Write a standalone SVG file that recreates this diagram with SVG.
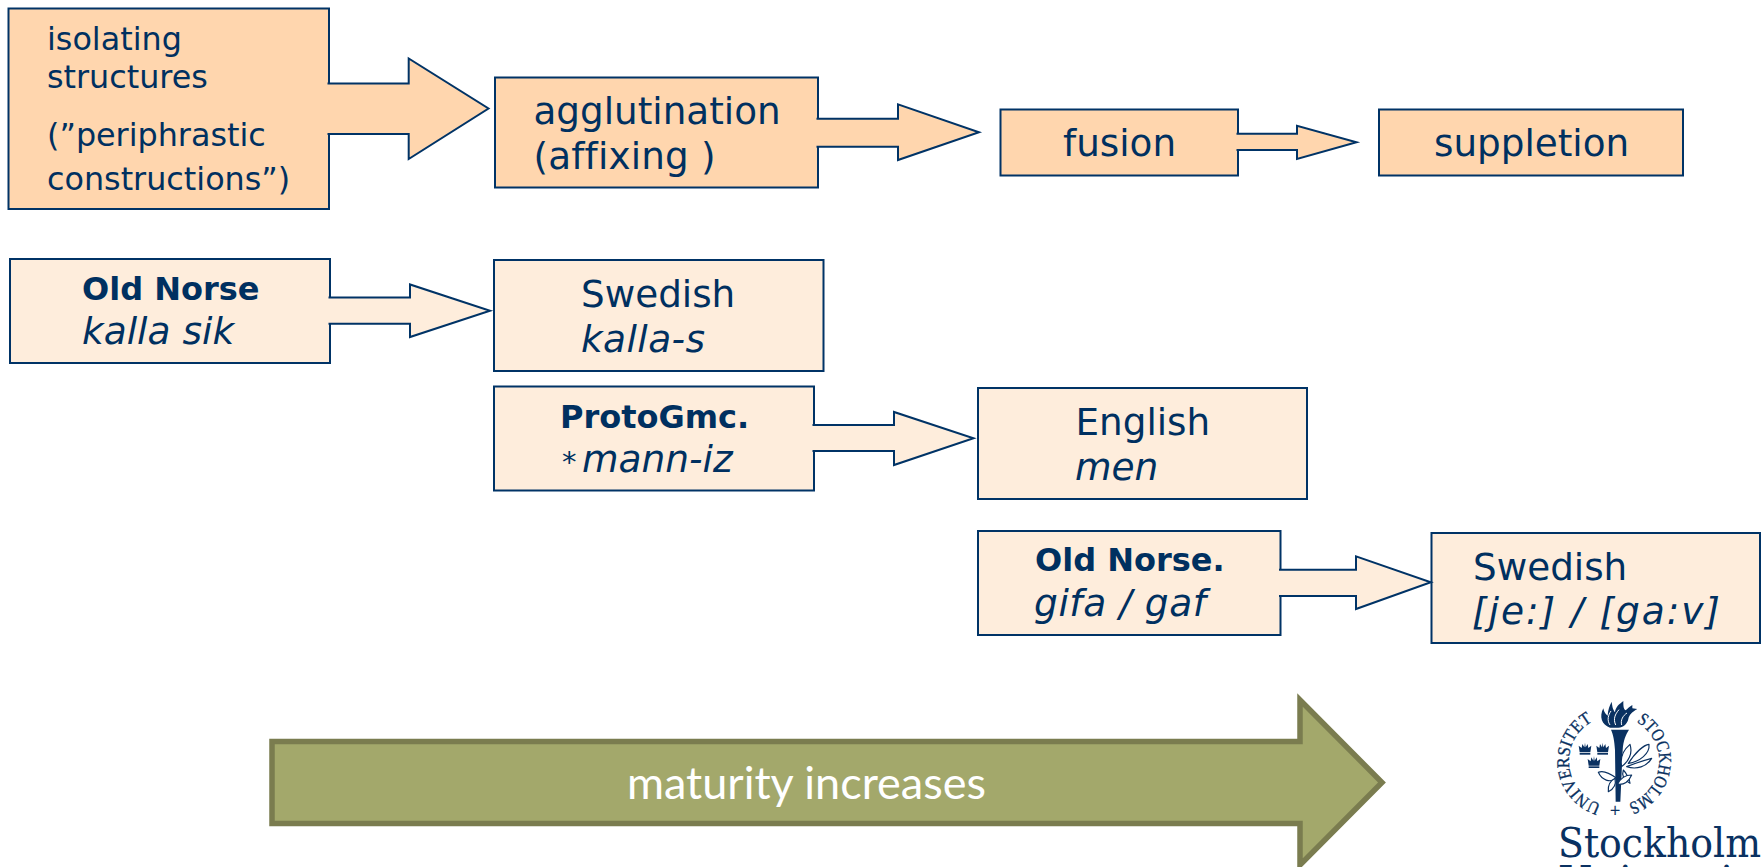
<svg xmlns="http://www.w3.org/2000/svg" width="1761" height="867" viewBox="0 0 1761 867">
<style>
text{font-family:"DejaVu Sans",Verdana,sans-serif;fill:#003060;font-variant-ligatures:none}
.d{fill:#FFD6AE;stroke:#003366;stroke-width:2}
.l{fill:#FEEDDC;stroke:#003366;stroke-width:2}
.s{font-size:31.800px}.m{font-size:37.300px}.b{font-size:32px;font-weight:bold}.i{font-size:37.500px;font-style:italic}
.seal{font-family:"Liberation Serif",serif;font-size:18px;fill:#0a3161;stroke:#0a3161;stroke-width:.3}
.navy{fill:#0a3161}
.leaf{fill:#fff;stroke:#0a3161;stroke-width:3.500;stroke-linejoin:round}
</style>
<defs>
<path id="a1" d="M1601.200 804.200A45 45 0 0 1 1593.600 720.900"/>
<path id="a2" d="M1636.500 722A45 45 0 0 1 1627.900 803.800"/>
<g id="crown"><path d="M-16 12L-19 -8L-10 -1L-8 -13L-2 -3L0 -17L2 -3L8 -13L10 -1L19 -8L16 12Z"/><rect x="-16" y="14" width="32" height="5"/></g>
</defs>
<g id="nodes">
<g id="n-isolating"><rect class="d" x="8.500" y="8.500" width="320.500" height="200.500"/>
<text class="s" x="47" y="50">isolating</text><text class="s" x="47" y="88">structures</text><text class="s" x="47" y="146">(”periphrastic</text><text class="s" x="47" y="190">constructions”)</text></g>
<g id="n-agglutination"><rect class="d" x="495" y="77.500" width="323" height="110"/>
<text class="m" x="533.500" y="124">agglutination</text><text class="m" x="533.500" y="169" textLength="182" lengthAdjust="spacing">(affixing )</text></g>
<g id="n-fusion"><rect class="d" x="1000.500" y="109.500" width="237.500" height="66"/><text class="m" x="1063" y="156">fusion</text></g>
<g id="n-suppletion"><rect class="d" x="1379" y="109.500" width="304" height="66"/><text class="m" x="1434" y="156">suppletion</text></g>
<g id="n-oldnorse1"><rect class="l" x="10" y="259" width="320" height="104"/><text class="b" x="82" y="300">Old Norse</text><text class="i" x="82" y="344">kalla sik</text></g>
<g id="n-swedish1"><rect class="l" x="494" y="260" width="329.500" height="111"/><text class="m" x="581" y="307">Swedish</text><text class="i" x="581" y="352" textLength="124" lengthAdjust="spacing">kalla-s</text></g>
<g id="n-protogmc"><rect class="l" x="494" y="386.500" width="320" height="104"/><text class="b" x="560" y="428">ProtoGmc.</text><text class="i" x="562" y="472"><tspan font-style="normal" font-size="29">*</tspan><tspan x="582">mann-iz</tspan></text></g>
<g id="n-english"><rect class="l" x="978" y="388" width="329" height="111"/><text class="m" x="1075.500" y="435">English</text><text class="i" x="1075" y="480">men</text></g>
<g id="n-oldnorse2"><rect class="l" x="978" y="531" width="302.500" height="104"/><text class="b" x="1035" y="571">Old Norse.</text><text class="i" x="1034" y="616" textLength="172" lengthAdjust="spacing">gifa / gaf</text></g>
<g id="n-swedish2"><rect class="l" x="1431.500" y="533" width="328.500" height="110"/><text class="m" x="1473" y="580">Swedish</text><text class="i" x="1472" y="624" textLength="248" lengthAdjust="spacing">[je:] / [ga:v]</text></g>
</g>
<g id="connectors">
<path class="d" d="M327.500 83.500H408.700V58.500L488.500 108.500L408.700 159V134H327.500"/>
<path class="d" d="M816.500 118.700H898V104.300L979 132.300L898 160V146.700H816.500"/>
<path class="d" d="M1236.500 133.700H1297V125.700L1356.500 142.300L1297 159V150H1236.500"/>
<path class="l" d="M328.500 297.500H410V284.500L490 310.700L410 337V323.700H328.500"/>
<path class="l" d="M812.500 425H894V412L973.500 438.300L894 465V451H812.500"/>
<path class="l" d="M1279 569.700H1356V556.300L1430.800 582.300L1356 609V596H1279"/>
</g>
<g id="n-maturity">
<path fill="#A3A86B" stroke="#7A7C4F" stroke-width="5.500" d="M272 741.500H1300V700L1382 782.500L1300 865V823.500H272Z"/>
<text x="627" y="799" style="font-family:Lato,'Open Sans',sans-serif;font-size:45px;fill:#fff">maturity increases</text>
</g>
<g id="logo">
<text class="seal"><textPath href="#a1" textLength="106" lengthAdjust="spacingAndGlyphs">UNIVERSITET</textPath></text>
<text class="seal"><textPath href="#a2" textLength="103" lengthAdjust="spacingAndGlyphs">STOCKHOLMS</textPath></text>
<text class="seal" x="1615" y="817" text-anchor="middle">+</text>
<g transform="translate(1555 695) scale(.33333)">
<path class="navy" d="M168 104H222C212 120 205 135 203 165L196 320H182L180 165C178 135 175 120 168 104Z"/>
<path class="navy" d="M165 98C140 90 132 65 145 40C148 55 155 60 158 62C158 45 165 30 170 20C172 38 175 45 180 52C182 35 192 28 205 18C205 32 205 42 212 46C218 40 224 35 232 30L232 40L247 42C232 50 222 60 220 72C216 88 205 97 190 98Z"/>
<path d="M165 90C155 75 160 60 168 48M182 90C174 72 180 58 192 44M200 90C196 75 204 62 216 54" fill="none" stroke="#fff" stroke-width="3"/>
<g class="leaf"><path d="M200 215C195 190 205 165 225 148C232 170 225 195 200 215Z"/><path d="M220 205C240 175 265 150 282 148C285 175 255 200 220 205Z"/><path d="M215 215C240 205 270 195 290 190C275 215 245 225 215 215Z"/><path d="M205 225C215 235 225 255 225 265C205 255 200 240 205 225Z"/><path d="M185 250C165 235 145 225 130 232C140 255 165 265 185 250Z"/><path d="M188 268C196 250 212 240 230 240C222 258 208 270 188 268Z"/><path d="M160 290C158 272 165 258 180 250C184 268 176 282 160 290Z"/></g>
<g class="navy"><use href="#crown" transform="translate(90 160)"/><use href="#crown" transform="translate(143 160)"/><use href="#crown" transform="translate(117 200)"/></g>
</g>
<text x="1558" y="857" textLength="203" lengthAdjust="spacingAndGlyphs" style="font-family:'DejaVu Serif',serif;font-size:41px;fill:#0a3161">Stockholm</text>
<text x="1558" y="895" style="font-family:'DejaVu Serif',serif;font-size:41px;fill:#0a3161">University</text>
</g>
</svg>
